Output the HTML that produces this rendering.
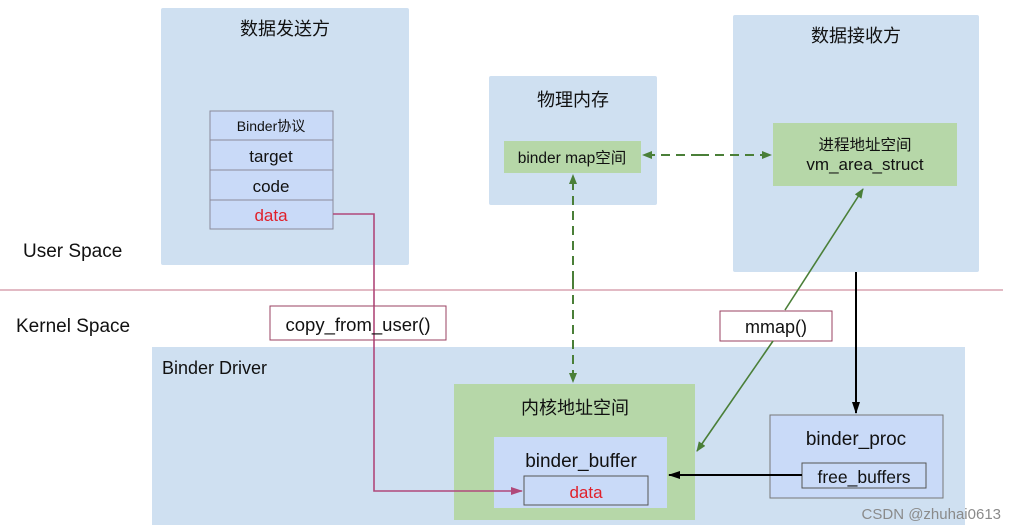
<!DOCTYPE html>
<html><head><meta charset="utf-8"><style>
html,body{margin:0;padding:0;background:#fff;}
svg{display:block;font-family:"Liberation Sans","Noto Sans CJK SC",sans-serif;}
</style></head><body>
<svg width="1016" height="530" viewBox="0 0 1016 530" xmlns="http://www.w3.org/2000/svg">
<defs>
<marker id="ag" markerWidth="10" markerHeight="8" refX="9" refY="4" orient="auto" markerUnits="userSpaceOnUse"><path d="M0,0 L10,4 L0,8 z" fill="#4a7f38"/></marker>
<marker id="ab" markerWidth="12" markerHeight="8" refX="11" refY="4" orient="auto" markerUnits="userSpaceOnUse"><path d="M0,0 L12,4 L0,8 z" fill="#000"/></marker>
<marker id="ap" markerWidth="12" markerHeight="8" refX="11" refY="4" orient="auto" markerUnits="userSpaceOnUse"><path d="M0,0 L12,4 L0,8 z" fill="#b0487a"/></marker>
</defs>
<!-- sender -->
<rect x="161" y="8" width="248" height="257" rx="2" fill="#cfe0f1"/>
<text x="285" y="35" font-size="18" text-anchor="middle" fill="#111">数据发送方</text>
<g fill="#c9daf8" stroke="#8a8a9a" stroke-width="1">
<rect x="210" y="111" width="123" height="29"/>
<rect x="210" y="140" width="123" height="30"/>
<rect x="210" y="170" width="123" height="30"/>
<rect x="210" y="200" width="123" height="29"/>
</g>
<text x="271" y="131" font-size="14" text-anchor="middle" fill="#111">Binder协议</text>
<text x="271" y="162" font-size="17" text-anchor="middle" fill="#111">target</text>
<text x="271" y="192" font-size="17" text-anchor="middle" fill="#111">code</text>
<text x="271" y="221" font-size="17" text-anchor="middle" fill="#e0202a">data</text>
<!-- physical memory -->
<rect x="489" y="76" width="168" height="129" rx="2" fill="#cfe0f1"/>
<text x="573" y="106" font-size="18" text-anchor="middle" fill="#111">物理内存</text>
<rect x="504" y="141" width="137" height="32" fill="#b6d7a8"/>
<text x="572" y="163" font-size="15.5" text-anchor="middle" fill="#111">binder map空间</text>
<!-- receiver -->
<rect x="733" y="15" width="246" height="257" rx="2" fill="#cfe0f1"/>
<text x="856" y="42" font-size="18" text-anchor="middle" fill="#111">数据接收方</text>
<rect x="773" y="123" width="184" height="63" fill="#b6d7a8"/>
<text x="865" y="150" font-size="15.5" text-anchor="middle" fill="#111">进程地址空间</text>
<text x="865" y="170" font-size="17" text-anchor="middle" fill="#111">vm_area_struct</text>
<!-- spaces -->
<text x="23" y="257" font-size="19" fill="#111">User Space</text>
<line x1="0" y1="290" x2="1003" y2="290" stroke="#d9a3b0" stroke-width="1.5"/>
<text x="16" y="332" font-size="19" fill="#111">Kernel Space</text>
<!-- driver -->
<rect x="152" y="347" width="813" height="178" fill="#cfe0f1"/>
<text x="162" y="374" font-size="18" fill="#111">Binder Driver</text>
<rect x="454" y="384" width="241" height="136" fill="#b6d7a8"/>
<text x="575" y="414" font-size="18" text-anchor="middle" fill="#111">内核地址空间</text>
<rect x="494" y="437" width="173" height="71" fill="#c9daf8"/>
<text x="581" y="467" font-size="19" text-anchor="middle" fill="#111">binder_buffer</text>
<rect x="524" y="476" width="124" height="29" fill="#c9daf8" stroke="#555" stroke-width="1"/>
<text x="586" y="498" font-size="17" text-anchor="middle" fill="#e0202a">data</text>
<rect x="770" y="415" width="173" height="83" fill="#c9daf8" stroke="#777" stroke-width="1"/>
<text x="856" y="445" font-size="19" text-anchor="middle" fill="#111">binder_proc</text>
<rect x="802" y="463" width="124" height="25" fill="#c9daf8" stroke="#555" stroke-width="1"/>
<text x="864" y="483" font-size="17.5" text-anchor="middle" fill="#111">free_buffers</text>
<!-- connectors -->
<polyline points="333,214 374,214 374,491 522,491" fill="none" stroke="#b0487a" stroke-width="1.6" marker-end="url(#ap)"/>
<rect x="270" y="306" width="176" height="34" fill="#fff" stroke="#9a4060" stroke-width="1"/>
<line x1="374" y1="306" x2="374" y2="340" stroke="#b0487a" stroke-width="1.6"/>
<text x="358" y="331" font-size="18.5" text-anchor="middle" fill="#111">copy_from_user()</text>
<line x1="700" y1="155" x2="643" y2="155" stroke="#4a7f38" stroke-width="2" stroke-dasharray="9,6" marker-end="url(#ag)"/>
<line x1="700" y1="155" x2="771" y2="155" stroke="#4a7f38" stroke-width="2" stroke-dasharray="9,6" marker-end="url(#ag)"/>
<line x1="573" y1="280" x2="573" y2="175" stroke="#4a7f38" stroke-width="2" stroke-dasharray="9,6" marker-end="url(#ag)"/>
<line x1="573" y1="280" x2="573" y2="382" stroke="#4a7f38" stroke-width="2" stroke-dasharray="9,6" marker-end="url(#ag)"/>
<rect x="720" y="311" width="112" height="30" fill="#fff" stroke="#9a4060" stroke-width="1"/>
<text x="776" y="333" font-size="18" text-anchor="middle" fill="#111">mmap()</text>
<line x1="785" y1="310" x2="863" y2="189" stroke="#4a7f38" stroke-width="1.6" marker-end="url(#ag)"/>
<line x1="773" y1="341" x2="697" y2="451" stroke="#4a7f38" stroke-width="1.6" marker-end="url(#ag)"/>
<line x1="856" y1="272" x2="856" y2="413" stroke="#000" stroke-width="2" marker-end="url(#ab)"/>
<line x1="802" y1="475" x2="669" y2="475" stroke="#000" stroke-width="2" marker-end="url(#ab)"/>
<text x="1001" y="519" font-size="15" text-anchor="end" fill="#8a8a8a">CSDN @zhuhai0613</text>
</svg>
</body></html>
